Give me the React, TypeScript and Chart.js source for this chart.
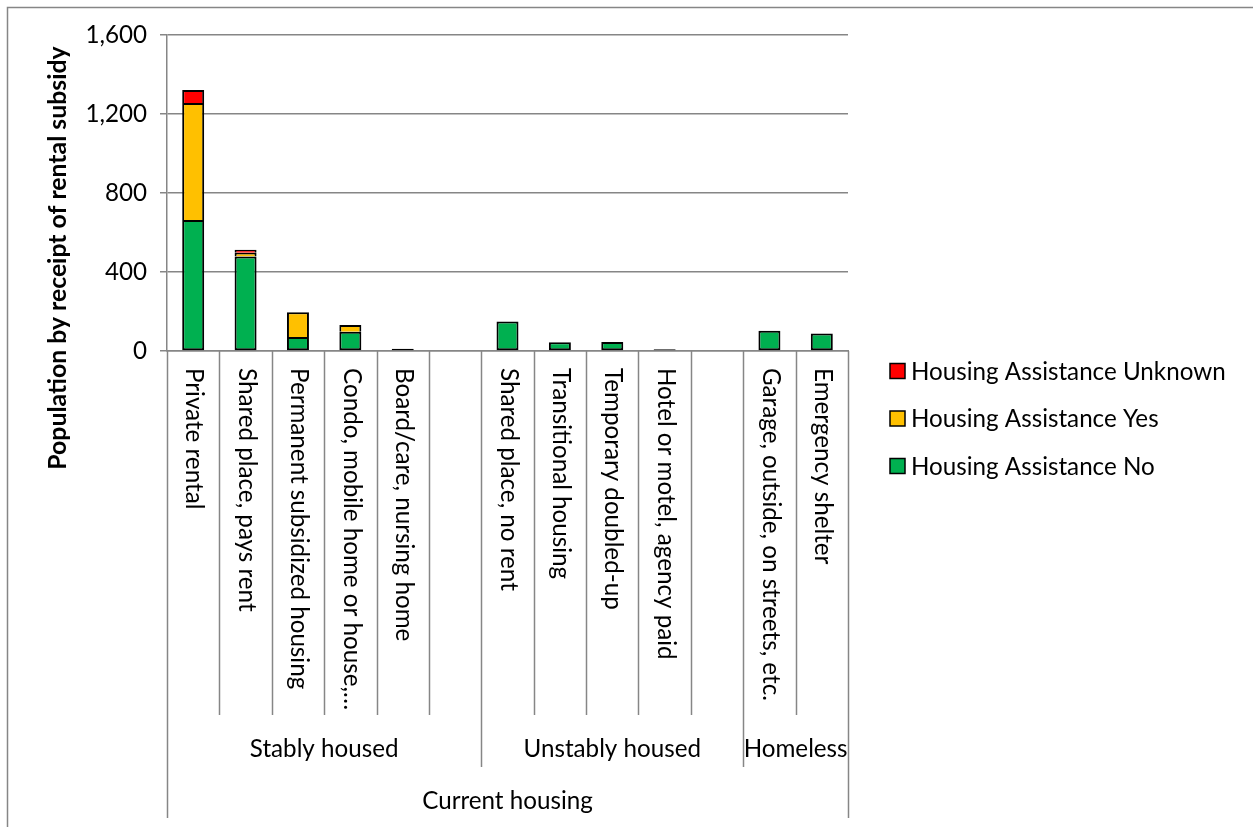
import React, { useEffect, useRef } from 'react';
import { Chart, registerables } from 'chart.js';

Chart.register(...registerables);

const categories = [
  'Private rental',
  'Shared place, pays rent',
  'Permanent subsidized housing',
  'Condo, mobile home or house,…',
  'Board/care, nursing home',
  '',
  'Shared place, no rent',
  'Transitional housing',
  'Temporary doubled-up',
  'Hotel or motel, agency paid',
  '',
  'Garage, outside, on streets, etc.',
  'Emergency shelter',
];
const groupLabels = ['Stably housed', 'Unstably housed', 'Homeless'];
const groupSizes = [6, 5, 2];
const topLabel = 'Current housing';

const assistanceNo = [663, 478, 71, 98, 11, null, 149, 44, 46, 9, null, 103, 88];
const assistanceYes = [593, 20, 125, 34, null, null, null, null, null, null, null, null, null];
const assistanceUnknown = [65, 15, null, null, null, null, null, null, null, null, null, null, null];

const seriesNames = ['Housing Assistance No', 'Housing Assistance Yes', 'Housing Assistance Unknown'];
const seriesColors = ['#00B050', '#FFC000', '#FF0000'];

const yMin = 0;
const yMax = 1600;
const yStep = 400;
const yTitle = 'Population by receipt of rental subsidy';

const FONT = 'Lato, "Open Sans", sans-serif';
const FONT_SIZE = 24.2;
const TITLE_SIZE = 24.8;
const GRAY = '#868686';

const customPlugin = {
  id: 'excelLike',
  afterDraw(chart: any) {
    const ctx: CanvasRenderingContext2D = chart.ctx;
    const ca = chart.chartArea;
    const xs = chart.scales.x;
    const n = categories.length;
    const step = (ca.right - ca.left) / n;
    const bx = (i: number) => Math.round(ca.left + i * step) + 0.5;

    ctx.save();
    // outer chart border (top & left, rest is cropped)
    ctx.strokeStyle = GRAY;
    ctx.lineWidth = 1.5;
    ctx.beginPath();
    ctx.moveTo(7.5, chart.height);
    ctx.lineTo(7.5, 7.5);
    ctx.lineTo(chart.width, 7.5);
    ctx.stroke();

    // category boundary lines
    const catBottom = ca.bottom + 364;
    const groupBottom = ca.bottom + 416;
    const outerBottom = ca.bottom + 467;
    const groupEdges = new Set<number>();
    let acc = 0;
    groupSizes.forEach((s) => {
      acc += s;
      groupEdges.add(acc);
    });
    ctx.beginPath();
    for (let i = 0; i <= n; i++) {
      let bottom = catBottom;
      if (i === 0 || i === n) bottom = outerBottom;
      else if (groupEdges.has(i)) bottom = groupBottom;
      ctx.moveTo(bx(i), ca.bottom);
      ctx.lineTo(bx(i), bottom);
    }
    ctx.stroke();

    // category labels (rotated, reading top to bottom)
    ctx.fillStyle = '#000';
    ctx.font = `${FONT_SIZE}px ${FONT}`;
    ctx.textAlign = 'left';
    ctx.textBaseline = 'middle';
    categories.forEach((label, i) => {
      if (!label) return;
      const cx = xs.getPixelForValue(i);
      ctx.save();
      ctx.translate(cx + 1, ca.bottom + 17);
      ctx.rotate(Math.PI / 2);
      ctx.fillText(label, 0, 0);
      ctx.restore();
    });

    // group labels
    ctx.textAlign = 'center';
    let start = 0;
    groupLabels.forEach((g, gi) => {
      const end = start + groupSizes[gi];
      const cx = (ca.left + start * step + ca.left + end * step) / 2;
      ctx.fillText(g, cx, ca.bottom + 398);
      start = end;
    });
    ctx.fillText(topLabel, (ca.left + ca.right) / 2, ca.bottom + 450);

    // y axis title
    ctx.save();
    ctx.font = `bold ${TITLE_SIZE}px ${FONT}`;
    ctx.translate(58, 258);
    ctx.rotate(-Math.PI / 2);
    ctx.textAlign = 'center';
    ctx.textBaseline = 'middle';
    ctx.fillText(yTitle, 0, 0);
    ctx.restore();

    // legend (reversed order like Excel)
    const lx = 890;
    const ly0 = 371;
    const lgap = 47.5;
    const ds = chart.data.datasets;
    ctx.font = `${FONT_SIZE}px ${FONT}`;
    ctx.textAlign = 'left';
    ctx.textBaseline = 'middle';
    for (let k = 0; k < ds.length; k++) {
      const d = ds[ds.length - 1 - k];
      const cy = ly0 + k * lgap;
      ctx.fillStyle = d.backgroundColor;
      ctx.fillRect(lx, cy - 7.5, 15, 15);
      ctx.strokeStyle = '#000';
      ctx.lineWidth = 1.5;
      ctx.strokeRect(lx, cy - 7.5, 15, 15);
      ctx.fillStyle = '#000';
      ctx.fillText(d.label, lx + 21, cy + 1);
    }
    ctx.restore();
  },
};

export default function App() {
  const canvasRef = useRef<HTMLCanvasElement | null>(null);

  useEffect(() => {
    if (!canvasRef.current) return;
    const seriesData = [assistanceNo, assistanceYes, assistanceUnknown];
    const chart = new Chart(canvasRef.current, {
      type: 'bar',
      data: {
        labels: categories,
        datasets: seriesData.map((d, i) => ({
          label: seriesNames[i],
          data: d as any,
          backgroundColor: seriesColors[i],
          borderColor: '#000',
          borderWidth: 2,
          borderSkipped: i === 0 ? false : 'start',
          barPercentage: 0.42,
          categoryPercentage: 1,
        })),
      },
      options: {
        responsive: false,
        animation: false,
        events: [],
        layout: { padding: { top: 35, right: 405, bottom: 0, left: 0 } },
        plugins: {
          legend: { display: false },
          tooltip: { enabled: false },
          title: { display: false },
        },
        scales: {
          x: {
            stacked: true,
            ticks: { display: false },
            grid: { display: false },
            border: { display: true, color: GRAY, width: 1.5 },
            afterFit: (scale: any) => {
              scale.height = 476;
            },
          },
          y: {
            stacked: true,
            min: yMin,
            max: yMax,
            ticks: {
              stepSize: yStep,
              color: '#000',
              padding: 13,
              font: { family: FONT, size: FONT_SIZE },
              callback: (v: any) => Number(v).toLocaleString('en-US'),
            },
            grid: { color: GRAY, lineWidth: 1.5, tickLength: 7 },
            border: { display: true, color: GRAY, width: 1.5 },
            afterFit: (scale: any) => {
              scale.width = 167;
            },
          },
        },
      },
      plugins: [customPlugin],
    });
    return () => chart.destroy();
  }, []);

  return (
    <div style={{ position: 'absolute', left: 0, top: 0, width: 1253, height: 827, background: '#fff' }}>
      <canvas ref={canvasRef} width={1253} height={827} style={{ display: 'block' }} />
    </div>
  );
}
